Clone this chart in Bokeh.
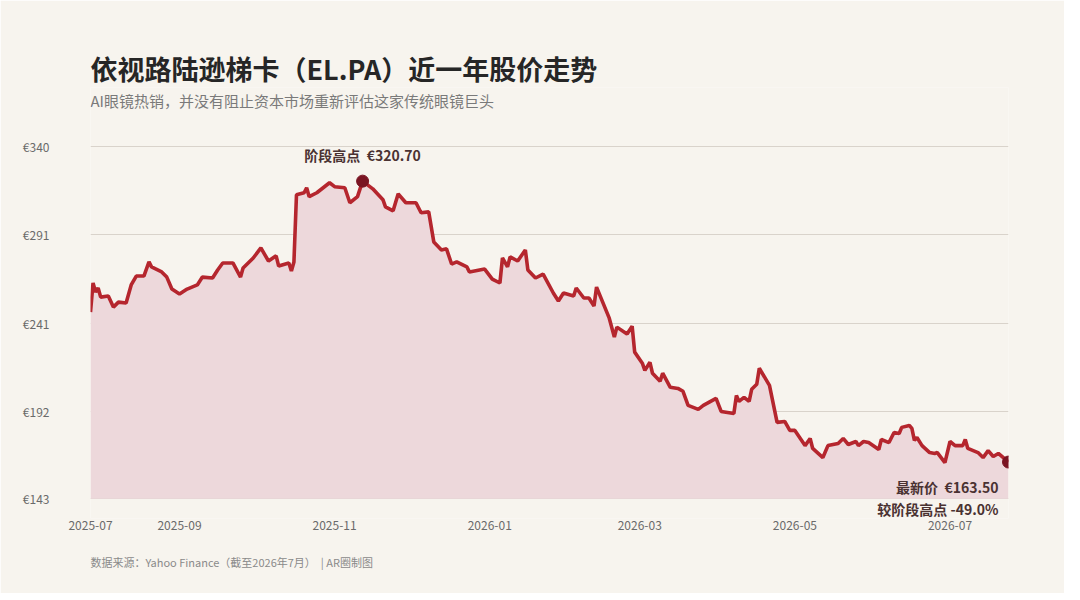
import datetime as dt
import numpy as np
from bokeh.plotting import figure
from bokeh.models import Label, Title, FixedTicker, ColumnDataSource
from bokeh.embed import file_html
from bokeh.resources import INLINE

# days since 2025-07-28 and closing price (EUR)
start = dt.datetime(2025, 7, 28)
days = [0, 1, 2, 3, 4, 7, 9, 11, 14, 16, 18, 21, 23, 24, 28, 30, 32, 35, 38, 42,
        44, 48, 50, 52, 56, 59, 60, 64, 67, 70, 73, 74, 78, 79, 80, 81, 84, 85, 86, 89,
        94, 96, 100, 102, 105, 107, 111, 115, 116, 119, 121, 124, 128, 130, 133, 135, 138, 140, 142, 144,
        148, 149, 155, 158, 161, 162, 164, 165, 168, 171, 172, 175, 178, 182, 184, 186, 190, 191, 194, 196,
        198, 199, 204, 206, 207, 211, 213, 214, 217, 218, 220, 221, 224, 225, 228, 231, 233, 235, 239, 241,
        246, 248, 253, 254, 255, 257, 259, 260, 262, 263, 267, 270, 273, 275, 277, 281, 283, 284, 288, 290,
        294, 296, 298, 301, 302, 304, 306, 310, 311, 314, 316, 318, 319, 322, 323, 324, 325, 327, 330, 332,
        333, 336, 338, 340, 343, 344, 345, 349, 351, 353, 355, 357, 361]
price = [247.4, 263.7, 258.6, 260.9, 255.8, 256.4, 250.2, 253.0, 252.5, 262.6, 267.6, 267.6, 275.5, 272.7, 269.9, 267.0, 260.3, 257.5, 260.3, 262.6,
         267.0, 266.5, 271.0, 274.9, 274.9, 267.0, 272.1, 277.7, 283.3, 276.0, 278.9, 273.2, 274.9, 270.4, 275.5, 313.1, 314.2, 317.0, 312.0, 314.2,
         319.8, 317.6, 317.0, 308.6, 312.0, 320.7, 316.4, 310.3, 306.3, 304.1, 313.6, 308.6, 308.6, 303.0, 303.5, 286.7, 282.2, 282.8, 274.3, 275.5,
         272.7, 269.9, 271.5, 265.9, 263.7, 277.7, 272.7, 278.3, 276.0, 282.2, 271.0, 266.5, 268.7, 258.1, 253.6, 258.1, 256.4, 260.9, 255.3, 255.3,
         250.8, 261.4, 244.0, 233.4, 239.0, 235.1, 239.5, 225.0, 218.8, 214.8, 219.3, 213.2, 208.7, 213.2, 205.3, 204.7, 203.1, 195.2, 193.0, 195.2,
         199.1, 191.8, 190.7, 200.8, 197.4, 199.7, 197.4, 204.2, 207.0, 216.0, 206.4, 185.7, 186.2, 181.2, 181.2, 172.7, 176.7, 171.1, 166.0, 172.7,
         173.9, 176.7, 173.3, 175.0, 172.7, 175.0, 174.4, 170.5, 176.1, 174.4, 180.0, 179.5, 182.9, 184.0, 182.3, 175.6, 177.2, 172.7, 168.8, 168.3,
         168.8, 163.2, 175.0, 172.7, 172.7, 176.1, 171.1, 168.8, 166.0, 169.9, 166.6, 168.3, 163.5]

y_ticks = [143, 192, 241, 291, 340]
x_tick_dates = ["2025-07-28", "2025-09-01", "2025-11-01", "2026-01-01", "2026-03-01", "2026-05-01", "2026-07-01"]
x_tick_labels = ["2025-07", "2025-09", "2025-11", "2026-01", "2026-03", "2026-05", "2026-07"]

dates = [start + dt.timedelta(days=d) for d in days]
src = ColumnDataSource(dict(date=dates, price=price, base=[y_ticks[0]] * len(price)))

BG = "#f7f4ee"
RED = "#b5262e"
DARK = "#7a1422"
FONT = "Noto Sans CJK SC"
SP = "\u00a0\u00a0"

# the frame is padded above and below the ticked range so the subtitle and the
# annotation under the last point can sit inside it without being clipped
p = figure(frame_width=918, frame_height=431, x_axis_type="datetime",
           x_range=(dates[0], dates[-1]), y_range=(131.9, 373.1),
           output_backend="svg", toolbar_location=None,
           background_fill_color=BG, border_fill_color=BG,
           min_border_left=90, min_border_right=56, min_border_bottom=75, min_border_top=10)
p.outline_line_color = None

p.add_layout(Title(text="依视路陆逊梯卡（EL.PA）近一年股价走势", text_font=FONT,
                   text_font_size="27px", text_font_style="bold", text_color="#262626",
                   offset=0, standoff=0), "above")
p.add_layout(Title(text=" ", text_font_size="40px", standoff=0), "above")
p.add_layout(Title(text="数据来源：Yahoo Finance（截至2026年7月）" + SP + "| AR圈制图", text_font=FONT,
                   text_font_size="11px", text_font_style="normal", text_color="#8a8a8a",
                   offset=0, standoff=38), "below")

p.add_layout(Label(x=dates[0], y=y_ticks[-1], text="AI眼镜热销，并没有阻止资本市场重新评估这家传统眼镜巨头",
                   text_align="left", text_baseline="middle", y_offset=46,
                   text_font=FONT, text_font_size="15px", text_color="#7a7a7a"))

p.varea(x="date", y1="base", y2="price", source=src, fill_color="#edd8db", fill_alpha=1)
p.line(x="date", y="price", source=src, line_color=RED, line_width=3.6)

i_max = int(np.argmax(price))
p.scatter([dates[i_max]], [price[i_max]], size=12, color=DARK)
p.scatter([dates[-1]], [price[-1]], size=12, color=DARK)

p.add_layout(Label(x=dates[i_max], y=price[i_max], text="阶段高点" + SP + "€%.2f" % price[i_max],
                   text_align="center", text_baseline="bottom", y_offset=16,
                   text_font=FONT, text_font_size="14px", text_font_style="bold", text_color="#4a3232"))
drop = (price[-1] / price[i_max] - 1) * 100
p.add_layout(Label(x=dates[-1], y=price[-1], text="最新价" + SP + "€%.2f" % price[-1],
                   text_align="right", text_baseline="middle", x_offset=-10, y_offset=-25,
                   text_font=FONT, text_font_size="14px", text_font_style="bold", text_color="#4a3232"))
p.add_layout(Label(x=dates[-1], y=price[-1], text="较阶段高点 %.1f%%" % drop,
                   text_align="right", text_baseline="middle", x_offset=-10, y_offset=-47,
                   text_font=FONT, text_font_size="14px", text_font_style="bold", text_color="#4a3232"))

p.yaxis.ticker = FixedTicker(ticks=y_ticks)
p.yaxis.major_label_overrides = {t: "€%d" % t for t in y_ticks}
p.yaxis.axis_line_color = None
p.yaxis.major_tick_line_color = None
p.yaxis.minor_tick_line_color = None
p.yaxis.major_label_standoff = 35
p.yaxis.major_label_text_font = FONT
p.yaxis.major_label_text_font_size = "12px"
p.yaxis.major_label_text_color = "#6a6a6a"

x_ticks = [dt.datetime.fromisoformat(s).timestamp() * 1000 for s in x_tick_dates]
p.xaxis.ticker = FixedTicker(ticks=x_ticks)
p.xaxis.major_label_overrides = dict(zip(x_ticks, x_tick_labels))
p.xaxis.axis_line_color = None
p.xaxis.major_tick_line_color = None
p.xaxis.minor_tick_line_color = None
p.xaxis.major_label_standoff = -4
p.xaxis.major_label_text_font = FONT
p.xaxis.major_label_text_font_size = "12px"
p.xaxis.major_label_text_color = "#6a6a6a"

p.xgrid.grid_line_color = None
p.ygrid.grid_line_color = "#d9d3cb"
p.ygrid.grid_line_width = 1

open("out.html", "w").write(file_html(p, INLINE))
